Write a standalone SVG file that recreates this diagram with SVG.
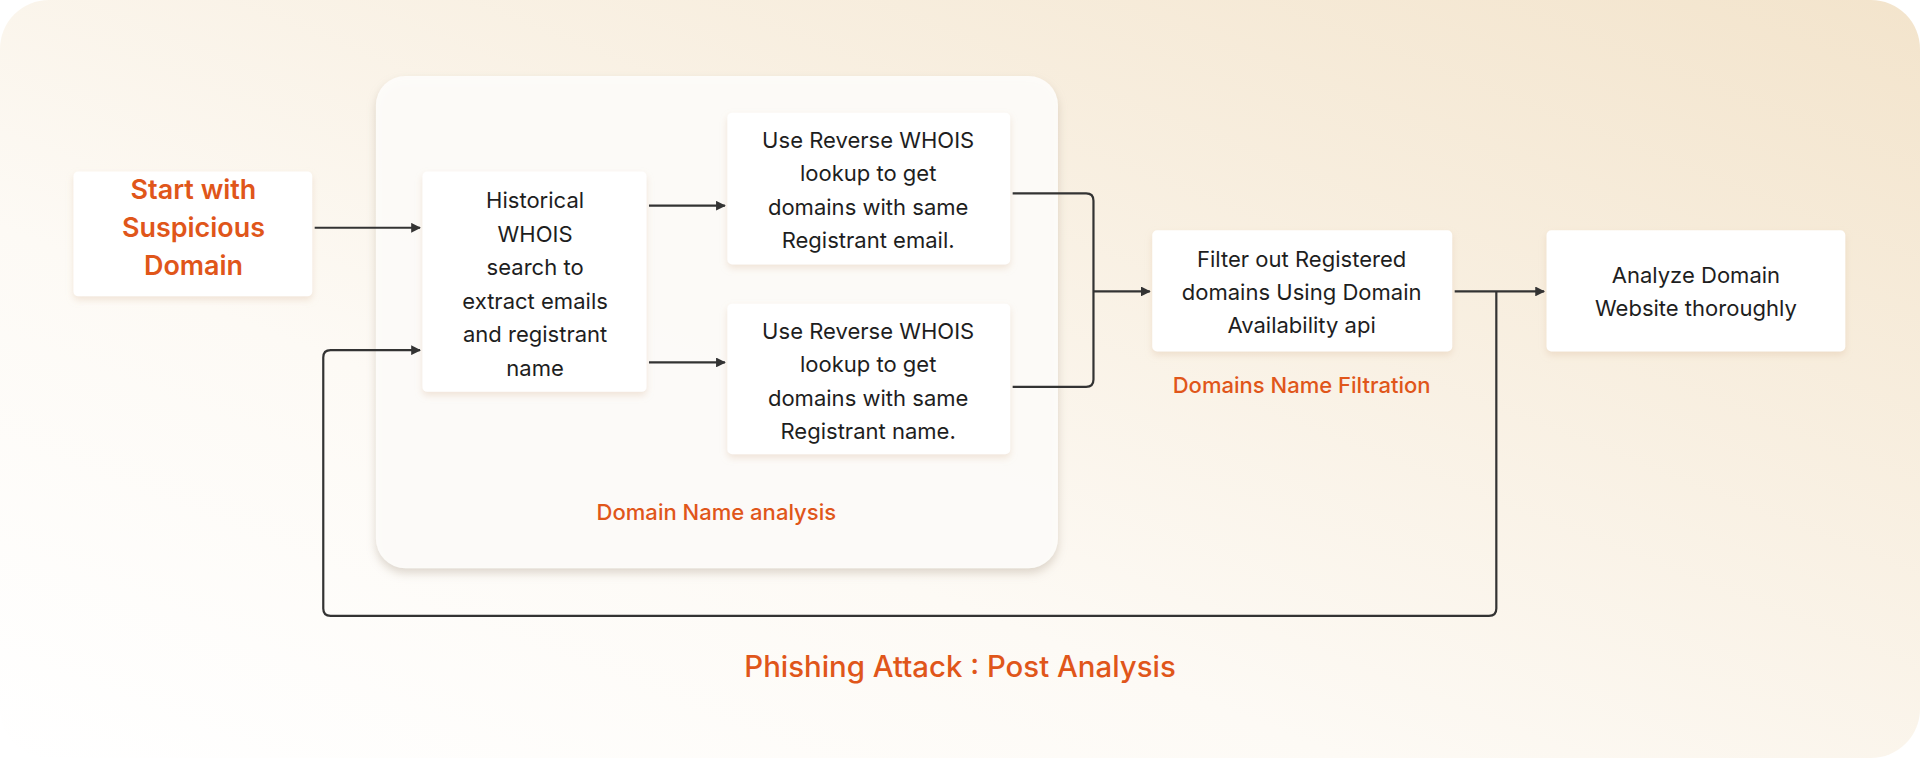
<svg xmlns="http://www.w3.org/2000/svg" width="1920" height="758" viewBox="0 0 1920 758">
<defs>
<linearGradient id="bg" x1="0" y1="1" x2="1" y2="0">
<stop offset="0" stop-color="#ffffff"/><stop offset="0.35" stop-color="#fdfaf5"/><stop offset="1" stop-color="#f3e4cc"/>
</linearGradient>
<filter id="sh" x="-20%" y="-20%" width="140%" height="140%"><feDropShadow dx="0" dy="3" stdDeviation="3" flood-color="#d9b89a" flood-opacity="0.35"/></filter>
<filter id="sh2" x="-10%" y="-10%" width="120%" height="120%"><feDropShadow dx="0" dy="4" stdDeviation="4" flood-color="#b0a090" flood-opacity="0.45"/></filter>
<marker id="ar" viewBox="0 0 10 10" refX="9" refY="5" markerWidth="8" markerHeight="8" markerUnits="userSpaceOnUse" orient="auto"><path d="M0,0L10,5L0,10z" fill="#333"/></marker>
<style>
.box{fill:#fff;filter:url(#sh)}
.t{font-family:Inter,"Open Sans",sans-serif;font-size:18px;fill:#1e1e1e;text-anchor:middle;dominant-baseline:middle}
.o{fill:#e0561a;font-weight:500}
.c{fill:none;stroke:#333;stroke-width:1.8;marker-end:url(#ar)}
.n{fill:none;stroke:#333;stroke-width:1.8}
</style>
</defs>
<g transform="scale(1.22449)">
<rect x="0" y="0" width="1568" height="619" rx="40" fill="url(#bg)"/>
<g id="group-domain-analysis">
<rect x="307" y="62" width="557" height="402" rx="24" fill="#fefdfb" fill-opacity="0.92" filter="url(#sh2)"/>
<text class="t o" x="585" y="420">Domain Name analysis</text>
</g>
<g id="start"><rect class="box" x="60" y="140" width="195" height="102" rx="4"/>
<text class="t o" style="font-size:22px;font-weight:600" x="158" y="157"><tspan x="158" dy="0">Start with</tspan><tspan x="158" dy="31">Suspicious</tspan><tspan x="158" dy="31">Domain</tspan></text></g>
<g id="historical"><rect class="box" x="345" y="140" width="183" height="180" rx="4"/>
<text class="t" x="437" y="165"><tspan x="437" dy="0">Historical</tspan><tspan x="437" dy="27.4">WHOIS</tspan><tspan x="437" dy="27.4">search to</tspan><tspan x="437" dy="27.4">extract emails</tspan><tspan x="437" dy="27.4">and registrant</tspan><tspan x="437" dy="27.4">name</tspan></text></g>
<g id="reverse-email"><rect class="box" x="594" y="92" width="231" height="124" rx="4"/>
<text class="t" x="709" y="116"><tspan x="709" dy="0">Use Reverse WHOIS</tspan><tspan x="709" dy="27.3">lookup to get</tspan><tspan x="709" dy="27.3">domains with same</tspan><tspan x="709" dy="27.3">Registrant email.</tspan></text></g>
<g id="reverse-name"><rect class="box" x="594" y="248" width="231" height="123" rx="4"/>
<text class="t" x="709" y="272"><tspan x="709" dy="0">Use Reverse WHOIS</tspan><tspan x="709" dy="27.3">lookup to get</tspan><tspan x="709" dy="27.3">domains with same</tspan><tspan x="709" dy="27.3">Registrant name.</tspan></text></g>
<g id="filter"><rect class="box" x="941" y="188" width="245" height="99" rx="4"/>
<text class="t" x="1063" y="213"><tspan x="1063" dy="0">Filter out Registered</tspan><tspan x="1063" dy="27">domains Using Domain</tspan><tspan x="1063" dy="27">Availability api</tspan></text>
<text class="t o" x="1063" y="316">Domains Name Filtration</text></g>
<g id="analyze"><rect class="box" x="1263" y="188" width="244" height="99" rx="4"/>
<text class="t" x="1385" y="226"><tspan x="1385" dy="0">Analyze Domain</tspan><tspan x="1385" dy="27">Website thoroughly</tspan></text></g>
<g id="connectors">
<path class="c" d="M257,186H343"/>
<path class="c" d="M530,168H592"/>
<path class="c" d="M530,296H592"/>
<path class="n" d="M827,158H887Q893,158 893,164V310Q893,316 887,316H827"/>
<path class="c" d="M893,238H939"/>
<path class="c" d="M1188,238H1261"/>
<path class="c" d="M1222,238V497Q1222,503 1216,503H270Q264,503 264,497V292Q264,286 270,286H343"/>
</g>
<text class="t o" style="font-size:24px" x="784" y="546">Phishing Attack : Post Analysis</text>
</g>
</svg>
